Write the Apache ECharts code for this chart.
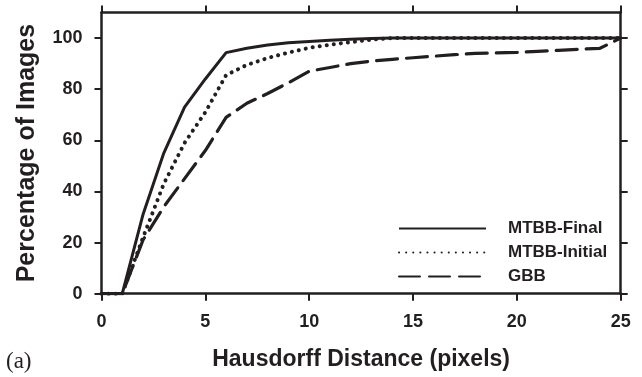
<!DOCTYPE html>
<html>
<head>
<meta charset="utf-8">
<script src="https://cdn.jsdelivr.net/npm/echarts@6/dist/echarts.min.js"></script>
<style>
    html, body { margin: 0; padding: 0; background: #fff; }
    #chart { width: 642px; height: 377px; }
</style>
</head>
<body>
<div id="chart"></div>
<script>
// x: Hausdorff distance (pixels)
var distances = [0, 1, 2, 3, 4, 5, 6, 7, 8, 9, 10, 11, 12, 13, 14, 15, 16, 17, 18, 19, 20, 21, 22, 23, 24, 25];
// y: percentage of images
var mtbbFinal = [0, 0, 31, 55, 73, 84, 94.3, 96, 97.3, 98.2, 98.7, 99.1, 99.5, 99.8, 100, 100, 100, 100, 100, 100, 100, 100, 100, 100, 100, 100];
var mtbbInitial = [0, 0, 22, 43, 59, 71, 85.5, 89.5, 92.2, 94.3, 96.2, 97.4, 98.4, 99.4, 100, 100, 100, 100, 100, 100, 100, 100, 100, 100, 100, 100];
var gbb = [0, 0, 21, 34, 45, 56, 69, 74.5, 78.3, 82.5, 87, 88.5, 90, 91, 91.7, 92.3, 92.9, 93.5, 94, 94.2, 94.4, 94.8, 95.2, 95.6, 96, 100];
var xTicks = [0, 5, 10, 15, 20, 25];
var yTicks = [0, 20, 40, 60, 80, 100];

var INK = '#231f20';
var SANS = '"Liberation Sans", Arial, sans-serif';

function pairs(ys) {
    return distances.map(function(x, i) {
        return [x, ys[i]];
    });
}

function xAxisOf(pos, withLabels) {
    return {
        type: 'value',
        position: pos,
        min: 0,
        max: 25,
        interval: 5,
        name: withLabels ? 'Hausdorff Distance (pixels)' : '',
        nameLocation: 'middle',
        nameGap: 54,
        nameTextStyle: { color: INK, fontFamily: SANS, fontWeight: 'bold', fontSize: 23 },
        axisLine: { show: true, onZero: false, lineStyle: { color: INK, width: 2.5 } },
        axisTick: { show: true, inside: false, length: 7, lineStyle: { color: INK, width: 2 }, customValues: xTicks },
        axisLabel: { show: withLabels, margin: 19, color: INK, fontFamily: SANS, fontWeight: 'bold', fontSize: 18, customValues: xTicks },
        splitLine: { show: false }
    };
}

function yAxisOf(pos, withLabels) {
    return {
        type: 'value',
        position: pos,
        min: 0,
        max: 110,
        interval: 20,
        name: withLabels ? 'Percentage of Images' : '',
        nameLocation: 'middle',
        nameGap: 62,
        nameTextStyle: { color: INK, fontFamily: SANS, fontWeight: 'bold', fontSize: 25 },
        axisLine: { show: true, onZero: false, lineStyle: { color: INK, width: 2.5 } },
        axisTick: { show: true, inside: false, length: 7, lineStyle: { color: INK, width: 2 }, customValues: yTicks },
        axisLabel: { show: withLabels, margin: 19, color: INK, fontFamily: SANS, fontWeight: 'bold', fontSize: 18, customValues: yTicks },
        splitLine: { show: false }
    };
}

function lineSeries(name, ys, dash, width) {
    return {
        name: name,
        type: 'line',
        symbol: 'none',
        data: pairs(ys),
        itemStyle: { color: INK },
        lineStyle: { color: INK, width: width, type: dash, cap: dash === 'solid' ? 'butt' : 'round' }
    };
}

var chart = echarts.init(document.getElementById('chart'), null, { renderer: 'canvas' });
var option = {
    animation: false,
    backgroundColor: '#fff',
    title: {
        text: '(a)',
        left: 1,
        top: 345,
        textStyle: { color: INK, fontFamily: '"Liberation Serif", "Times New Roman", serif', fontWeight: 'normal', fontSize: 23 }
    },
    grid: { left: 101.5, right: 21.3, top: 12.5, bottom: 83.3 },
    legend: {
        orient: 'vertical',
        left: 393,
        top: 215,
        itemWidth: 87,
        itemHeight: 14,
        itemGap: 7,
        itemStyle: { opacity: 0 },
        textStyle: { color: INK, fontFamily: SANS, fontWeight: 'bold', fontSize: 17, lineHeight: 16, padding: [0, 0, 0, 17] },
        data: ['MTBB-Final', 'MTBB-Initial', 'GBB']
    },
    xAxis: [xAxisOf('bottom', true), xAxisOf('top', false)],
    yAxis: [yAxisOf('left', true), yAxisOf('right', false)],
    series: [
        lineSeries('MTBB-Final', mtbbFinal, 'solid', 3),
        lineSeries('MTBB-Initial', mtbbInitial, [0.1, 7], 4),
        lineSeries('GBB', gbb, [21, 9], 3.2)
    ]
};
chart.setOption(option);
</script>
</body>
</html>
